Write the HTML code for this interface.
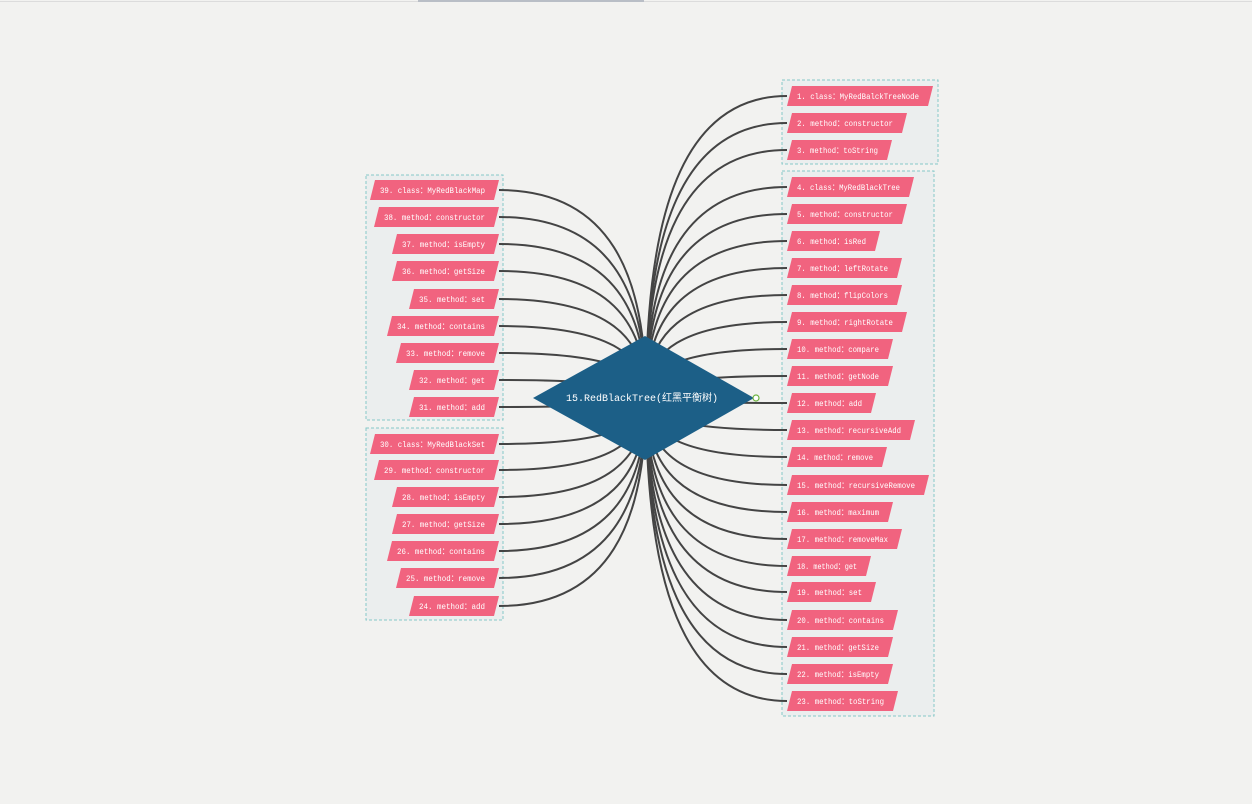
<!DOCTYPE html>
<html><head><meta charset="utf-8">
<style>
html,body{margin:0;padding:0;background:#f2f2f0;}
svg{display:block;}
text{font-family:"Liberation Mono","Noto Sans CJK SC",monospace;}
</style></head>
<body>
<svg id="map" width="1252" height="804" viewBox="0 0 1252 804">
<rect x="0" y="0" width="1252" height="804" fill="#f2f2f0"/>
<line x1="0" y1="1.5" x2="1252" y2="1.5" stroke="#dcdcdc" stroke-width="1"/>
<rect x="418" y="0" width="226" height="2" fill="#b9bec6"/>
<g id="frames"></g>
<g id="links"></g>
<g id="center"></g>
<g id="nodes"></g>
</svg>
<script>
const rightLabels=["1. class：MyRedBalckTreeNode","2. method：constructor","3. method：toString","4. class：MyRedBlackTree","5. method：constructor","6. method：isRed","7. method：leftRotate","8. method：flipColors","9. method：rightRotate","10. method：compare","11. method：getNode","12. method：add","13. method：recursiveAdd","14. method：remove","15. method：recursiveRemove","16. method：maximum","17. method：removeMax","18. method：get","19. method：set","20. method：contains","21. method：getSize","22. method：isEmpty","23. method：toString"];
const rightY=[96,123,150,187,214,241,268,295,322,349,376,403,430,457,485,512,539,566,592,620,647,674,701];
const rightEnd=[933,907,892,914,907,880,902,902,907,893,893,876,915,887,929,893,902,871,876,898,893,893,898];
const leftLabels=["39. class：MyRedBlackMap","38. method：constructor","37. method：isEmpty","36. method：getSize","35. method：set","34. method：contains","33. method：remove","32. method：get","31. method：add","30. class：MyRedBlackSet","29. method：constructor","28. method：isEmpty","27. method：getSize","26. method：contains","25. method：remove","24. method：add"];
const leftY=[190,217,244,271,299,326,353,380,407,444,470,497,524,551,578,606];
const leftStart=[370,374,392,392,409,387,396,409,409,370,374,392,392,387,396,409];

const NS="http://www.w3.org/2000/svg";
function mk(tag,attrs,parent){const e=document.createElementNS(NS,tag);for(const k in attrs)e.setAttribute(k,attrs[k]);parent.appendChild(e);return e;}
const frames=document.getElementById('frames'),links=document.getElementById('links'),center=document.getElementById('center'),nodes=document.getElementById('nodes');
const CX=646,CY=398,H=20,SK=5;

function frame(x,y,w,h,name){
  const r=mk('rect',{x:x,y:y,width:w,height:h,fill:'#e8ecec','fill-opacity':'0.7',stroke:'#86c8c8','stroke-width':'1','stroke-dasharray':'3 2'},frames);
  
  
}
frame(782,80,156,84,'group-frame-node-class');
frame(782,171,152,545,'group-frame-tree-class');
frame(366,175,137,245,'group-frame-map-class');
frame(366,428,137,192,'group-frame-set-class');

function node(x1,x2,y,label,i,side){
  const g=mk('g',{},nodes);
  
  
  mk('polygon',{points:`${x1+SK},${y-H/2} ${x2},${y-H/2} ${x2-SK},${y+H/2} ${x1},${y+H/2}`,fill:'#f1637f'},g);
  const t=mk('text',{x:x1+10,y:y+3,'font-size':'8.5',fill:'#ffffff',textLength:Math.max(10,x2-x1-24),lengthAdjust:'spacingAndGlyphs'},g);
  t.textContent=label;
}
for(let i=0;i<rightLabels.length;i++){
  const y=rightY[i],nx=787;
  const p=mk('path',{d:`M ${CX} ${CY} C ${CX} ${CY+(y-CY)*0.6}, ${CX+(nx-CX)*0.25} ${y}, ${nx} ${y}`,fill:'none',stroke:'#444','stroke-width':'2'},links);
  
  
  node(787,rightEnd[i],y,rightLabels[i],i,'right');
}
for(let i=0;i<leftLabels.length;i++){
  const y=leftY[i],nx=499;
  const p=mk('path',{d:`M ${CX} ${CY} C ${CX} ${CY+(y-CY)*0.6}, ${CX-(CX-nx)*0.25} ${y}, ${nx} ${y}`,fill:'none',stroke:'#444','stroke-width':'2'},links);
  
  
  node(leftStart[i],499,y,leftLabels[i],i,'left');
}
const d=mk('polygon',{points:'533,398 645,336 754,398 645,460',fill:'#1c5f87'},center);


const ct=mk('text',{x:642,y:401,'font-size':'10','text-anchor':'middle',fill:'#ffffff'},center);
ct.textContent='15.RedBlackTree(红黑平衡树)';


const c=mk('circle',{cx:756,cy:398,r:3,fill:'#fff',stroke:'#6cb33e','stroke-width':'1.2'},center);


</script>
</body></html>
